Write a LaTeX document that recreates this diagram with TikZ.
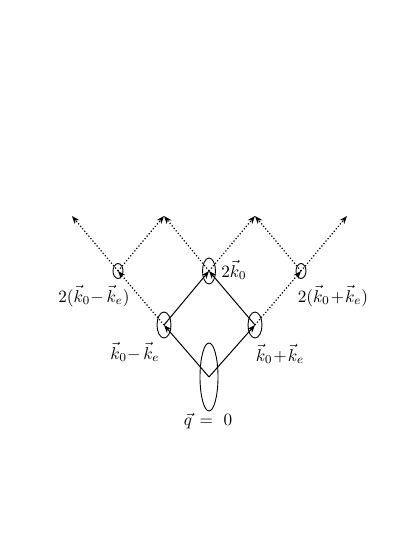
\documentclass[tikz,border=0pt]{standalone}
\usetikzlibrary{shapes.geometric,arrows.meta}
\begin{document}
\begin{tikzpicture}[x=1pt,y=1pt,
  ell/.style={draw,ellipse,inner sep=0pt,line width=0.9pt},
  solidarrow/.style={line width=1pt,-{Stealth[length=8pt,width=6pt]}},
  dotarrow/.style={line width=1.2pt,dotted,-{Stealth[length=8pt,width=6pt]}},
  lab/.style={font=\normalsize,inner sep=0pt,scale=1.72,transform shape}]
\useasboundingbox (0,0) rectangle (415,537);
% centres
\coordinate (b) at (209,160);
\coordinate (l) at (164,212);
\coordinate (r) at (255,212);
\coordinate (t) at (209,266);
\coordinate (ll) at (118,266);
\coordinate (rr) at (301,266);
\coordinate (t1) at (72,321);
\coordinate (t2) at (164,321);
\coordinate (t3) at (255,321);
\coordinate (t4) at (347,321);
% ellipses
\node[ell,minimum width=18pt,minimum height=68pt] (eb) at (b) {};
\node[ell,minimum width=14pt,minimum height=26pt] (el) at (l) {};
\node[ell,minimum width=14pt,minimum height=26pt] (er) at (r) {};
\node[ell,minimum width=13pt,minimum height=26pt] (et) at (t) {};
\node[ell,minimum width=10pt,minimum height=15pt] (ell) at (ll) {};
\node[ell,minimum width=10pt,minimum height=15pt] (err) at (rr) {};
% solid arrows
\draw[solidarrow] (b) -- (l);
\draw[solidarrow] (b) -- (r);
\draw[solidarrow] (l) -- (t);
\draw[solidarrow] (r) -- (t);
% dotted arrows
\draw[dotarrow] (l) -- (ll);
\draw[dotarrow] (ll) -- (t1);
\draw[dotarrow] (ll) -- (t2);
\draw[dotarrow] (t) -- (t2);
\draw[dotarrow] (t) -- (t3);
\draw[dotarrow] (r) -- (rr);
\draw[dotarrow] (rr) -- (t3);
\draw[dotarrow] (rr) -- (t4);
% labels
\node[lab,anchor=west] (lt) at (221,267) {$2\vec k_0$};
\node[lab] (lll) at (94,241) {$2(\vec k_0{-}\,\vec k_e)$};
\node[lab] (lrr) at (333,241) {$2(\vec k_0\!+\!\vec k_e)$};
\node[lab] (lel) at (135,185) {$\vec k_0{-}\,\vec k_e$};
\node[lab] (ler) at (280,183) {$\vec k_0\!+\!\vec k_e$};
\node[lab] (lb) at (208,116) {$\vec q\, =\ 0$};
\end{tikzpicture}
\end{document}
